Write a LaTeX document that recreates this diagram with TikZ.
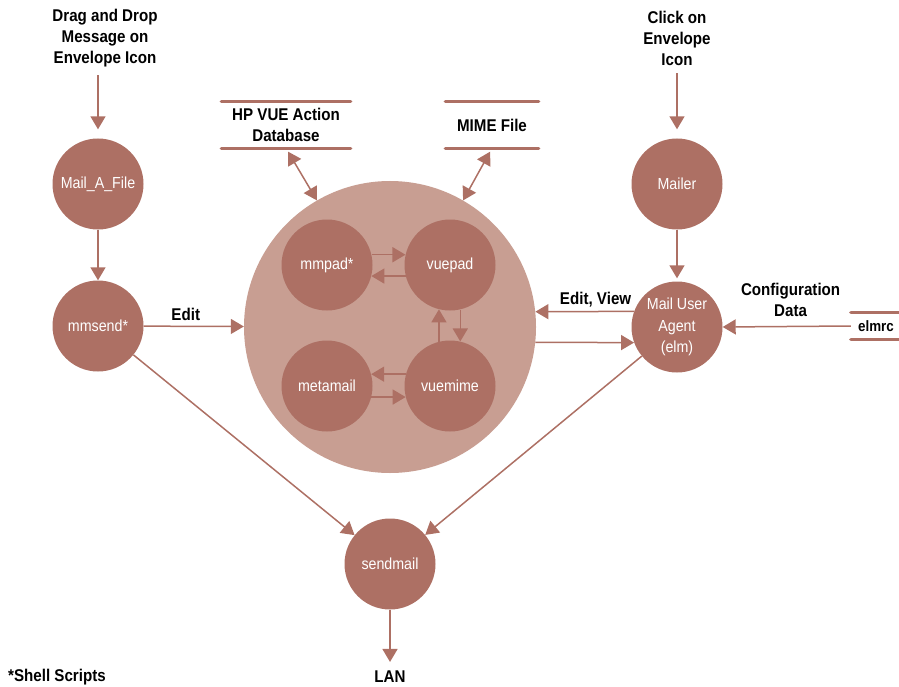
\documentclass[tikz,border=0pt]{standalone}
\usepackage{fontspec}
\setmainfont{Liberation Sans}[FakeStretch=0.89]
\usetikzlibrary{arrows.meta}
\definecolor{dark}{HTML}{AD7064}
\definecolor{light}{HTML}{C89E92}
\begin{document}
\begin{tikzpicture}[x=1pt,y=-1pt,
  proc/.style={circle,fill=dark,minimum size=91pt,inner sep=0pt,text=white,
    font=\fontsize{16}{21.5}\selectfont,align=center},
  lbl/.style={font=\bfseries\fontsize{17}{21}\selectfont,align=center,inner sep=1pt},
  tip/.tip={Triangle[length=13pt,width=15pt]},
  arr/.style={draw=dark,line width=1.5pt,-tip},
  darr/.style={draw=dark,line width=1.5pt,tip-tip},
  bar/.style={draw=dark,line width=3.3pt,line cap=round}]
\useasboundingbox (0,0) rectangle (899,687);

% big process circle
\node[circle,fill=light,minimum size=292pt,inner sep=0pt] (big) at (390,327) {};

% processes
\node[proc] (mailafile) at (98,184) {Mail\_A\_File};
\node[proc] (mmsend) at (98,326) {mmsend*};
\node[proc] (mailer) at (677,184) {Mailer};
\node[proc] (mua) at (677,327) {Mail User\\Agent\\(elm)};
\node[proc] (sendmail) at (390,564) {sendmail};
\node[proc] (mmpad) at (327,265) {mmpad*};
\node[proc] (vuepad) at (450,265) {vuepad};
\node[proc] (metamail) at (327,386) {metamail};
\node[proc] (vuemime) at (450,386) {vuemime};

% texts
\node[lbl] (drag) at (105,38) {Drag and Drop\\Message on\\Envelope Icon};
\node[lbl] (click) at (677,38) {Click on\\Envelope\\Icon};
\node[lbl] (lan) at (390,677) {LAN};
\node[lbl,anchor=west] (note) at (7,677) {*Shell Scripts};

% data stores
\node[lbl,minimum width=129pt,minimum height=46pt] (hpdb) at (286,125) {HP VUE Action\\Database};
\node[lbl,minimum width=93pt,minimum height=46pt] (mime) at (492,125) {MIME File};
\node[lbl,font=\bfseries\fontsize{15}{18}\selectfont,minimum width=50pt,minimum height=26pt] (elmrc) at (876,326) {elmrc};
\foreach \s in {hpdb,mime,elmrc}{
  \draw[bar] (\s.north west) -- (\s.north east);
  \draw[bar] (\s.south west) -- (\s.south east);
}

% connectors
\draw[arr,shorten <=7pt,shorten >=9pt] (drag.south -| mailafile.north) -- (mailafile.north);
\draw[arr,shorten <=7pt,shorten >=9pt] (click.south -| mailer.north) -- (mailer.north);
\draw[arr] (mailafile) -- (mmsend);
\draw[arr,shorten >=3pt] (mailer) -- (mua);
\draw[arr] (mmsend) -- node[lbl,above,pos=0.42,inner sep=5pt] {Edit} (big);
\draw[arr] (mua.160) -- node[lbl,above,pos=0.39,inner sep=4pt] {Edit, View} (big.6);
\draw[arr] (big.-6) -- (mua.200);
\draw[arr] (elmrc.west) -- node[lbl,above,pos=0.47,inner sep=9pt] {Configuration\\Data} (mua.east);
\draw[darr,shorten <=4pt] (hpdb.south) -- (big.120);
\draw[darr,shorten <=4pt] (mime.south) -- (big.60);
\draw[arr] (mmsend) -- (sendmail);
\draw[arr] (mua) -- (sendmail);
\draw[arr,shorten >=8pt] (sendmail) -- (lan);

% inner connectors
\draw[arr] (mmpad.13) -- (vuepad.167);
\draw[arr] (vuepad.194) -- (mmpad.-14);
\draw[arr] (vuemime.104) -- (vuepad.256);
\draw[arr] (vuepad.-77) -- (vuemime.77);
\draw[arr] (vuemime.165) -- (metamail.15);
\draw[arr] (metamail.-14) -- (vuemime.194);
\end{tikzpicture}
\end{document}
